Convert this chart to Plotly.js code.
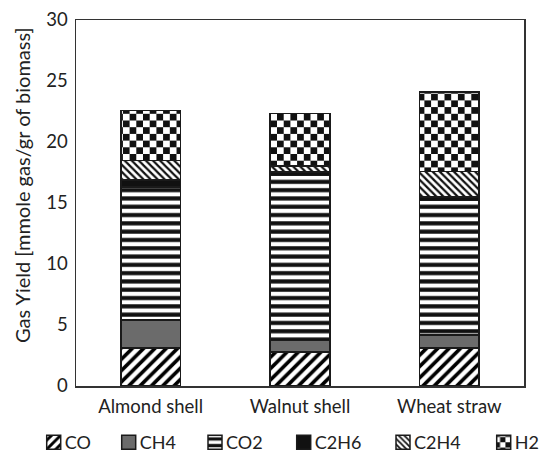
<!DOCTYPE html>
<html>
<head>
<meta charset="utf-8">
<script src="https://cdn.plot.ly/plotly-3.0.1.min.js"></script>
<style>html,body{margin:0;padding:0;background:#fff;}#chart{width:539px;height:452px;}</style>
</head>
<body>
<div id="chart"></div>
<script>
const categories = ["Almond shell", "Walnut shell", "Wheat straw"];
const CO   = [3.1, 2.8, 3.1];
const CH4  = [2.3, 0.95, 1.1];
const CO2  = [10.9, 13.5, 11.0];
const C2H6 = [0.6, 0.3, 0.3];
const C2H4 = [1.6, 0.5, 2.1];
const H2   = [4.1, 4.3, 6.5];
const seriesNames = ["CO", "CH4", "CO2", "C2H6", "C2H4", "H2"];
const yTitle = "Gas Yield [mmole gas/gr of biomass]";

const font = "Lato, Noto Sans, sans-serif";
const txt = "#222";
const seriesData = [CO, CH4, CO2, C2H6, C2H4, H2];
const styles = [
  {color: "#ffffff", pattern: {shape: "/", fgcolor: "#000", bgcolor: "#fff", fgopacity: 1, size: 8, solidity: 0.45, fillmode: "overlay"}},
  {color: "#6b6b6b"},
  {color: "#ffffff", pattern: {shape: "-", fgcolor: "#111", bgcolor: "#fff", fgopacity: 1, size: 8.3, solidity: 0.5, fillmode: "overlay"}},
  {color: "#111111"},
  {color: "#ffffff", pattern: {shape: "\\", fgcolor: "#111", bgcolor: "#fff", fgopacity: 1, size: 5, solidity: 0.45, fillmode: "overlay"}},
  {color: "#ffffff", pattern: {shape: ".", fgcolor: "#111", bgcolor: "#fff", fgopacity: 1, size: 6.7, solidity: 0.5, fillmode: "overlay"}}
];
// legend symbol left edges (px) in the picture
const legendSymbolX = [46.7, 121.7, 208, 296.7, 396, 496.7];

const plotL = 76, plotW = 448, plotB = 386, plotH = 366;
const legendIds = ["legend", "legend2", "legend3", "legend4", "legend5", "legend6"];

const traces = seriesNames.map((n, i) => ({
  type: "bar",
  name: n,
  x: categories,
  y: seriesData[i],
  legend: legendIds[i],
  marker: Object.assign({line: {color: "#1a1a1a", width: 1.5}}, styles[i]),
  hoverinfo: "y+name"
}));

const layout = {
  width: 539, height: 452,
  margin: {l: plotL, r: 539 - plotL - plotW, t: plotB - plotH, b: 452 - plotB, autoexpand: false},
  barmode: "stack",
  bargap: 0.6,
  paper_bgcolor: "#fff",
  plot_bgcolor: "#fff",
  font: {family: font, size: 18, color: txt},
  showlegend: true,
  xaxis: {showline: true, linecolor: "#333", linewidth: 1.5, mirror: true, ticks: "",
          ticklabelstandoff: 3,
          tickfont: {family: font, size: 18.5, color: txt}},
  yaxis: {range: [0, 30], dtick: 5, showgrid: false, zeroline: false, showline: true,
          linecolor: "#333", linewidth: 1.5, mirror: true, ticks: "",
          ticklabelstandoff: 3,
          tickfont: {family: font, size: 18.5, color: txt}},
  annotations: [{
    text: yTitle, textangle: -90, showarrow: false,
    xref: "paper", yref: "paper",
    x: (22 - plotL) / plotW, y: (plotB - 185) / plotH,
    xanchor: "center", yanchor: "middle",
    font: {family: font, size: 20, color: txt}
  }]
};
legendIds.forEach((id, i) => {
  layout[id] = {
    orientation: "h", xanchor: "left", yanchor: "top",
    x: (legendSymbolX[i] - 22 - plotL) / plotW, y: -0.104,
    font: {family: font, size: 18, color: txt},
    bgcolor: "rgba(0,0,0,0)"
  };
});

function restyleSvg() {
  const ns = "http://www.w3.org/2000/svg";
  document.querySelectorAll("#chart pattern").forEach(p => {
    if (p.getAttribute("data-checker")) return;
    const path = p.querySelector("path");
    const isDot = p.querySelector("circle") || (path && /a/i.test(path.getAttribute("d") || ""));
    if (!isDot) return;
    const s = parseFloat(p.getAttribute("width")) || 6.7;
    p.setAttribute("data-checker", "1");
    p.setAttribute("width", 2 * s);
    p.setAttribute("height", 2 * s);
    while (p.firstChild) p.removeChild(p.firstChild);
    const mk = (x, y, w, h, c) => {
      const r = document.createElementNS(ns, "rect");
      r.setAttribute("x", x); r.setAttribute("y", y);
      r.setAttribute("width", w); r.setAttribute("height", h);
      r.setAttribute("fill", c);
      p.appendChild(r);
    };
    mk(0, 0, 2 * s, 2 * s, "#fff");
    mk(0, 0, s, s, "#111");
    mk(s, s, s, s, "#111");
  });
  // larger legend swatch, shifted right next to its label
  document.querySelectorAll("#chart .legendpoints path").forEach(pt => {
    pt.setAttribute("d", "M16,7H2V-7H16Z");
  });
}

const gd = document.getElementById("chart");
Plotly.newPlot(gd, traces, layout, {displayModeBar: false, staticPlot: true}).then(() => {
  restyleSvg();
  gd.on("plotly_afterplot", restyleSvg);
  setTimeout(restyleSvg, 50);
  setTimeout(restyleSvg, 300);
});
</script>
</body>
</html>
